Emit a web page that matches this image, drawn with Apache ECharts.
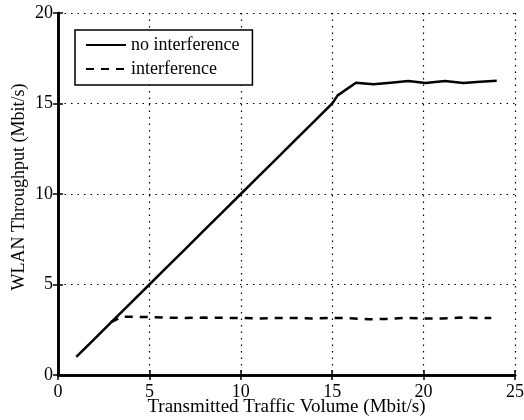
<!DOCTYPE html>
<html lang="en">
  <head>
    <meta charset="UTF-8" />
    <title>WLAN Throughput vs Transmitted Traffic Volume</title>
    <script src="https://cdn.jsdelivr.net/npm/echarts/dist/echarts.min.js"></script>
    <style>
      html, body { margin: 0; padding: 0; background: #fff; }
    </style>
  </head>
  <body>
    <div id="chart" style="width: 524px; height: 420px"></div>

    <script>
      // data
      const noIntX = [1, 2, 3, 4, 5, 6, 7, 8, 9, 10, 11, 12, 13, 14, 15, 15.3, 16.3, 17.25, 18.2, 19.16, 20.1, 21.17, 22.17, 23.1, 24.0];
      const noIntY = [1, 2, 3, 4, 5, 6, 7, 8, 9, 10, 11, 12, 13, 14, 15, 15.45, 16.15, 16.06, 16.15, 16.24, 16.13, 16.24, 16.13, 16.2, 16.26];
      const intX = [2.9, 3.5, 4, 5, 6, 7, 8, 9, 10, 11, 12, 13, 14, 15, 16, 17, 18, 19, 20, 21, 22, 23, 23.7];
      const intY = [2.92, 3.22, 3.22, 3.2, 3.17, 3.15, 3.17, 3.16, 3.15, 3.12, 3.15, 3.15, 3.12, 3.16, 3.13, 3.08, 3.1, 3.15, 3.12, 3.12, 3.17, 3.15, 3.15];
      const xTicks = [0, 5, 10, 15, 20, 25];
      const yTicks = [0, 5, 10, 15, 20];

      const font = "Liberation Serif";
      const toPairs = (xs, ys) => xs.map((x, i) => [x, ys[i]]);

      var chart = echarts.init(document.getElementById("chart"));

      var gridDots = { show: true, lineStyle: { color: "#000", width: 1.2, type: [1.5, 5] } };
      var frameLine = { show: true, lineStyle: { color: "#000", width: 2.5 } };
      var inTick = { show: true, inside: true, length: 5, lineStyle: { color: "#000", width: 1.5 } };

      var option = {
        animation: false,
        backgroundColor: "#fff",
        textStyle: { fontFamily: font },
        grid: { left: 58, right: 9, top: 13, bottom: 45, outerBoundsMode: "none", containLabel: false },
        legend: {
          orient: "vertical",
          left: 75,
          top: 30,
          padding: [6, 13, 7, 10],
          itemGap: 6,
          itemWidth: 40,
          itemHeight: 14,
          borderColor: "#000",
          borderWidth: 1.5,
          backgroundColor: "#fff",
          itemStyle: { opacity: 0 },
          textStyle: { fontFamily: font, fontSize: 18, color: "#000" },
          data: ["no interference", "interference"],
        },
        xAxis: [
          {
            type: "value",
            min: xTicks[0],
            max: xTicks[xTicks.length - 1],
            interval: 5,
            name: "Transmitted Traffic Volume (Mbit/s)",
            nameLocation: "middle",
            nameGap: 23,
            nameMoveOverlap: false,
            nameTextStyle: { fontFamily: font, fontSize: 19, color: "#000" },
            axisLine: frameLine,
            axisTick: inTick,
            axisLabel: { fontFamily: font, fontSize: 18, color: "#000", margin: 8 },
            splitLine: gridDots,
          },
          {
            type: "value",
            position: "top",
            min: xTicks[0],
            max: xTicks[xTicks.length - 1],
            interval: 5,
            axisLine: frameLine,
            axisTick: inTick,
            axisLabel: { show: false },
            splitLine: { show: false },
          },
        ],
        yAxis: [
          {
            type: "value",
            min: yTicks[0],
            max: yTicks[yTicks.length - 1],
            interval: 5,
            name: "WLAN Throughput (Mbit/s)",
            nameLocation: "middle",
            nameGap: 30,
            nameMoveOverlap: false,
            nameTextStyle: { fontFamily: font, fontSize: 18, color: "#000", padding: [0, 0, 0, 14] },
            axisLine: frameLine,
            axisTick: inTick,
            axisLabel: { fontFamily: font, fontSize: 18, color: "#000", margin: 5 },
            splitLine: gridDots,
          },
          {
            type: "value",
            position: "right",
            min: yTicks[0],
            max: yTicks[yTicks.length - 1],
            interval: 5,
            axisLine: frameLine,
            axisTick: inTick,
            axisLabel: { show: false },
            splitLine: { show: false },
          },
        ],
        series: [
          {
            name: "no interference",
            type: "line",
            showSymbol: false,
            symbol: "none",
            color: "#000",
            lineStyle: { color: "#000", width: 2.5 },
            data: toPairs(noIntX, noIntY),
          },
          {
            name: "interference",
            type: "line",
            showSymbol: false,
            symbol: "none",
            color: "#000",
            lineStyle: { color: "#000", width: 2.5, type: [8, 7] },
            data: toPairs(intX, intY),
          },
        ],
      };

      option && chart.setOption(option);
    </script>
  </body>
</html>
